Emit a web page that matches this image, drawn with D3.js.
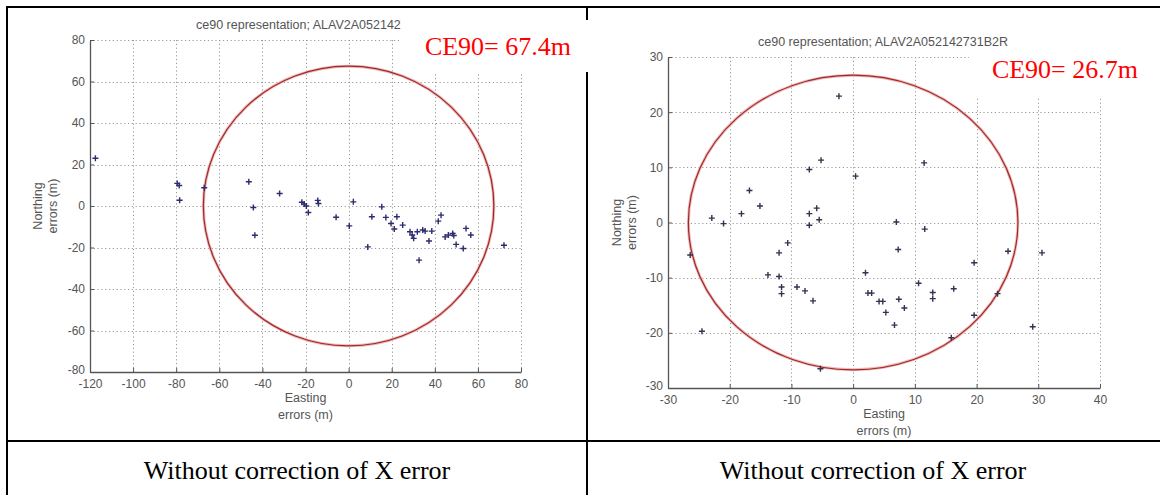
<!DOCTYPE html>
<html>
<head>
<meta charset="utf-8">
<script src="https://cdn.jsdelivr.net/npm/d3@7"></script>
<style>
  html, body { margin: 0; padding: 0; background: #fff; }
  svg { display: block; }
  .tick text { font-family: "Liberation Sans", Arial, sans-serif; }
</style>
</head>
<body>
<svg id="chart" width="1160" height="495"></svg>
<script>
// ---------- DATA ----------
const leftTitle = "ce90 representation; ALAV2A052142731B2R";
const rightTitle = "ce90 representation; ALAV2A052142731B2R";
const leftCE90 = 67.4;
const rightCE90 = 26.7;
const leftXTicks = [-120, -100, -80, -60, -40, -20, 0, 20, 40, 60, 80];
const leftYTicks = [-80, -60, -40, -20, 0, 20, 40, 60, 80];
const rightXTicks = [-30, -20, -10, 0, 10, 20, 30, 40];
const rightYTicks = [-30, -20, -10, 0, 10, 20, 30];

const leftEasting = [-117.5, -79.5, -78.6, -78.4, -67, -46.3, -44.2, -43.5, -32, -21.7, -20.6, -19.6, -18.7,
  -14.3, -14, -5.8, 0.3, 2.2, 8.9, 10.8, 15.4, 17.3, 19.7, 21.2, 22.4, 25.1, 28.5, 29.5, 30.2, 31.9,
  32.7, 34.4, 35.5, 37.3, 38.6, 41.6, 42.9, 44.8, 46.3, 48.3, 48.8, 49.9, 53.2, 54.5, 56.7, 72.1];
const leftNorthing = [23, 10.9, 9.9, 2.8, 8.8, 11.7, -0.7, -14.1, 6, 1.8, 1, 0, -3.1,
  2.7, 1.2, -5.4, -9.6, 2.0, -19.7, -5.2, -0.4, -5.5, -8.4, -11.1, -5.2, -9.2, -12.4, -14, -15.6, -12.4,
  -26.1, -11.6, -12.1, -16.9, -12.1, -7.3, -4.4, -14.9, -14, -13.2, -14.2, -18.5, -20.5, -10.8, -14, -18.9];

const rightEasting = [-2.3, -5.2, -7.1, 0.4, 11.5, -16.8, -15.1, -18.1, -22.9, -21, -7.1, -5.9, -5.5, -7.1,
  -26.4, -10.6, -12, -13.8, -12, -11.6, -11.6, -9.1, -7.8, -6.5, -24.5, -5.3, 7, 7.3, 11.6, 2,
  2.4, 3, 4.2, 4.8, 5.3, 6.7, 7.4, 8.3, 10.6, 12.9, 12.9, 16.3, 15.9, 19.6, 19.6, 23.4, 25.1, 30.6, 29.1];
const rightNorthing = [22.9, 11.3, 9.6, 8.4, 10.8, 5.8, 3.0, 1.6, 0.8, -0.2, 1.6, 2.6, 0.5, -0.5,
  -5.9, -3.7, -5.5, -9.5, -9.8, -11.7, -12.9, -11.7, -12.4, -14.2, -19.7, -26.5, 0.1, -4.9, -1.2, -9.1,
  -12.8, -12.8, -14.3, -14.3, -16.3, -18.6, -13.9, -15.5, -11, -12.7, -13.8, -12, -20.9, -7.3, -16.8, -12.9, -5.2, -5.5, -18.9];

const captions = ["Without correction of X error", "Without correction of X error"];

// ---------- DRAW ----------
const svg = d3.select("#chart");
svg.append("rect").attr("width", 1160).attr("height", 495).attr("fill", "#fff");

function panel(cfg) {
  const g = svg.append("g");
  const x = d3.scaleLinear().domain(cfg.xDomain).range(cfg.xRange);
  const y = d3.scaleLinear().domain(cfg.yDomain).range(cfg.yRange);
  const [x0, x1] = cfg.xRange, [y0, y1] = cfg.yRange; // y0 bottom, y1 top

  // grid (dotted)
  const grid = g.append("g").attr("stroke", "#999").attr("stroke-width", 1)
    .attr("stroke-dasharray", "1.2,2.6").attr("fill", "none");
  grid.selectAll(".gx").data(cfg.xTicks.slice(1)).join("line")
    .attr("x1", d => Math.round(x(d)) + 0.5).attr("x2", d => Math.round(x(d)) + 0.5)
    .attr("y1", y1).attr("y2", y0);
  grid.selectAll(".gy").data(cfg.yTicks.slice(1)).join("line")
    .attr("y1", d => Math.round(y(d)) + 0.5).attr("y2", d => Math.round(y(d)) + 0.5)
    .attr("x1", x0).attr("x2", x1);

  // axes
  const fmt = d => String(d);
  const ax = g.append("g").attr("transform", `translate(0,${y0})`)
    .call(d3.axisBottom(x).tickValues(cfg.xTicks).tickSizeInner(-4).tickSizeOuter(0).tickPadding(7).tickFormat(fmt));
  const ay = g.append("g").attr("transform", `translate(${x0},0)`)
    .call(d3.axisLeft(y).tickValues(cfg.yTicks).tickSizeInner(-4).tickSizeOuter(0).tickPadding(5).tickFormat(fmt));
  [ax, ay].forEach(a => {
    a.select(".domain").attr("stroke", "#555").attr("stroke-width", 1.3);
    a.selectAll(".tick line").attr("stroke", "#555");
    a.selectAll(".tick text").attr("fill", "#555").attr("font-size", 12);
  });
  // nudge the bottom-most y label up a touch (as in the reference, it sits at the corner)
  ay.selectAll(".tick text").filter(d => d === cfg.yTicks[0]).attr("dy", "0.1em");

  // CE90 circle
  const cx = x(0), cy = y(0);
  const rx = x(cfg.ce90) - x(0), ry = y(0) - y(cfg.ce90);
  g.append("ellipse").attr("cx", cx).attr("cy", cy).attr("rx", rx).attr("ry", ry)
    .attr("fill", "none").attr("stroke", "#f2b8b8").attr("stroke-width", 3);
  g.append("ellipse").attr("cx", cx).attr("cy", cy).attr("rx", rx).attr("ry", ry)
    .attr("fill", "none").attr("stroke", "#9c2a2a").attr("stroke-width", 1.2);

  // points as "+"
  const pts = cfg.e.map((d, i) => [d, cfg.n[i]]);
  g.append("g").selectAll("path").data(pts).join("path")
    .attr("d", d => { const px = x(d[0]), py = y(d[1]); return `M${px-3},${py}h6M${px},${py-3}v6`; })
    .attr("stroke", cfg.ptColor).attr("stroke-width", 1.4).attr("fill", "none");

  // title
  g.append("text").attr("x", cfg.titleX).attr("y", cfg.titleY)
    .attr("text-anchor", "middle").attr("font-family", "Liberation Sans, Arial, sans-serif")
    .attr("font-size", 12.5).attr("fill", "#555").text(cfg.title);

  // axis labels
  const xm = (x0 + x1) / 2, ym = (y0 + y1) / 2;
  const lab = g.append("g").attr("font-family", "Liberation Sans, Arial, sans-serif")
    .attr("font-size", 12.5).attr("fill", "#555").attr("text-anchor", "middle");
  lab.append("text").attr("x", xm).attr("y", y0 + 30).text("Easting");
  lab.append("text").attr("x", xm).attr("y", y0 + 47).text("errors (m)");
  lab.append("text").attr("transform", `translate(${cfg.ylabX},${ym}) rotate(-90)`).text("Northing");
  lab.append("text").attr("transform", `translate(${cfg.ylabX + 15},${ym}) rotate(-90)`).text("errors (m)");
  return { x, y };
}

// table lines (under label boxes)
const table = svg.append("g").attr("stroke", "#000").attr("stroke-width", 2);
table.append("line").attr("x1", 6).attr("x2", 1160).attr("y1", 7).attr("y2", 7);
table.append("line").attr("x1", 7).attr("x2", 7).attr("y1", 6).attr("y2", 495);
table.append("line").attr("x1", 587).attr("x2", 587).attr("y1", 6).attr("y2", 495);
table.append("line").attr("x1", 6).attr("x2", 1160).attr("y1", 441).attr("y2", 441);

panel({ xDomain: [-120, 80], yDomain: [-80, 80], xRange: [90, 521], yRange: [372, 40],
  xTicks: leftXTicks, yTicks: leftYTicks, e: leftEasting, n: leftNorthing, ce90: leftCE90,
  ptColor: "#2c2c6e", title: leftTitle, titleX: 321, titleY: 29, ylabX: 42 });
panel({ xDomain: [-30, 40], yDomain: [-30, 30], xRange: [668, 1100], yRange: [388, 57],
  xTicks: rightXTicks, yTicks: rightYTicks, e: rightEasting, n: rightNorthing, ce90: rightCE90,
  ptColor: "#33334f", title: rightTitle, titleX: 883, titleY: 46, ylabX: 621 });

// white label boxes with CE90 text
svg.append("rect").attr("x", 401).attr("y", 20).attr("width", 190).attr("height", 52).attr("fill", "#fff");
svg.append("rect").attr("x", 969).attr("y", 50).attr("width", 191).attr("height", 47).attr("fill", "#fff");
const ce = svg.append("g").attr("font-family", "Liberation Serif, Times New Roman, serif")
  .attr("font-size", 26).attr("fill", "#ff0000").attr("text-anchor", "end");
ce.append("text").attr("x", 571).attr("y", 55).text(`CE90= ${leftCE90}m`);
ce.append("text").attr("x", 1138).attr("y", 78).text(`CE90= ${rightCE90}m`);

// captions
svg.append("g").attr("font-family", "Liberation Serif, Times New Roman, serif")
  .attr("font-size", 26).attr("fill", "#000").attr("text-anchor", "middle")
  .selectAll("text").data(captions).join("text")
  .attr("x", (d, i) => i === 0 ? 297 : 873).attr("y", 479).text(d => d);
</script>
</body>
</html>
